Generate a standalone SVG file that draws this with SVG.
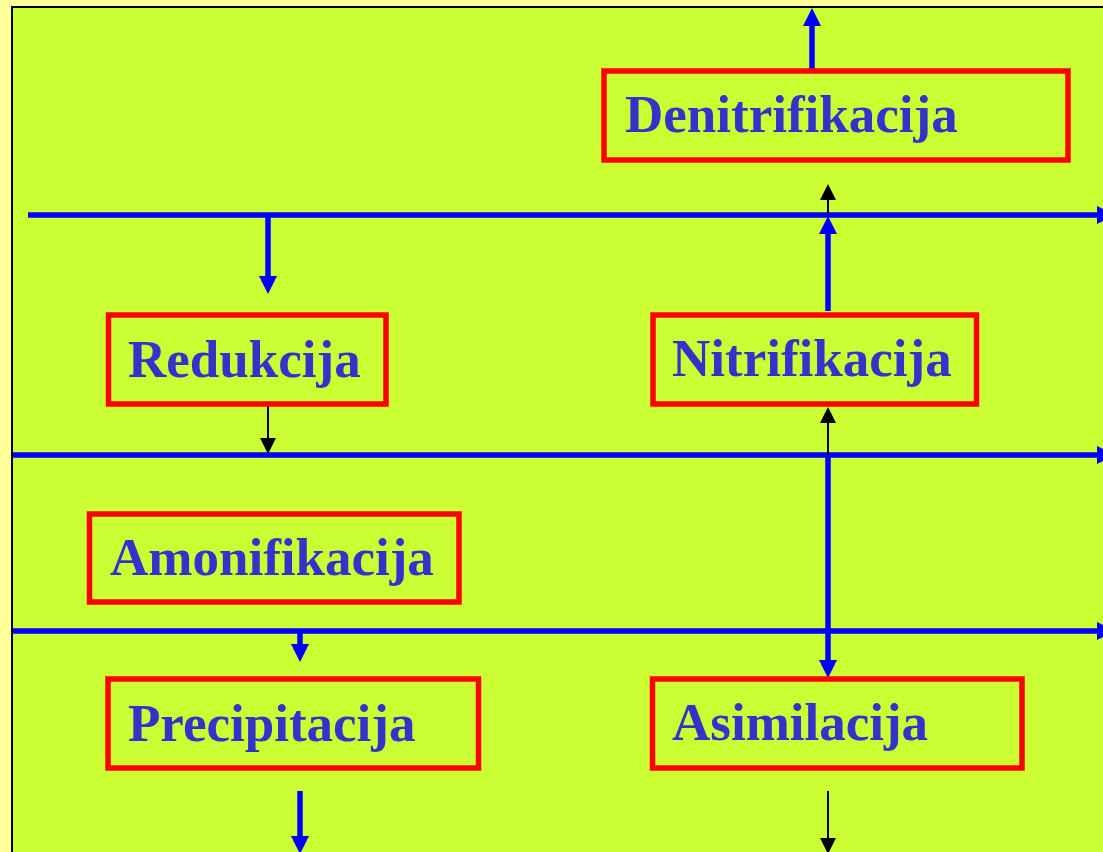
<svg xmlns="http://www.w3.org/2000/svg" width="1103" height="852" viewBox="0 0 1103 852">
<style>
.box{fill:none;stroke:#FF0000;stroke-width:5.5}
.lbl{font-family:"Liberation Serif","Times New Roman",serif;font-weight:bold;font-size:53px;fill:#3333CC}
.blue{fill:none;stroke:#0000FF;stroke-width:5.5;marker-end:url(#ab)}
.blk{fill:none;stroke:#000000;stroke-width:2;marker-end:url(#ak)}
</style>
<defs>
<marker id="ab" markerUnits="userSpaceOnUse" markerWidth="20" markerHeight="20" refX="1" refY="9" orient="auto" overflow="visible"><path d="M0,0 L18,9 L0,18 z" fill="#0000FF"/></marker>
<marker id="ak" markerUnits="userSpaceOnUse" markerWidth="18" markerHeight="18" refX="1" refY="8" orient="auto" overflow="visible"><path d="M0,0 L16,8 L0,16 z" fill="#000000"/></marker>
</defs>
<rect x="0" y="0" width="1103" height="852" fill="#FFFF99"/>
<rect x="12" y="7" width="1110" height="900" fill="#CCFF33" stroke="#000000" stroke-width="2"/>
<g id="connectors">
<path class="blue" d="M28,215 H1098"/>
<path class="blue" d="M13,455 H1098"/>
<path class="blue" d="M13,631 H1098"/>
<path class="blue" d="M268,215 V277"/>
<path class="blue" d="M812,70 V25"/>
<path class="blk" d="M828,213 V199"/>
<path class="blue" d="M828,311 V233"/>
<path class="blk" d="M828,455 V422"/>
<path class="blue" d="M828,455 V661"/>
<path class="blk" d="M268,405 V439"/>
<path class="blue" d="M300,631 V645"/>
<path class="blue" d="M300,791 V837"/>
<path class="blk" d="M828,791 V839"/>
</g>
<g id="denitrifikacija">
<rect class="box" x="604" y="71" width="464" height="89"/>
<text class="lbl" x="625" y="132">Denitrifikacija</text>
</g>
<g id="redukcija">
<rect class="box" x="108.5" y="315" width="277.5" height="89"/>
<text class="lbl" x="128" y="377">Redukcija</text>
</g>
<g id="nitrifikacija">
<rect class="box" x="653" y="315" width="323.5" height="89"/>
<text class="lbl" x="672" y="376">Nitrifikacija</text>
</g>
<g id="amonifikacija">
<rect class="box" x="89.5" y="514" width="369.5" height="88"/>
<text class="lbl" x="110" y="575">Amonifikacija</text>
</g>
<g id="precipitacija">
<rect class="box" x="108" y="679" width="370.5" height="89"/>
<text class="lbl" x="128" y="741">Precipitacija</text>
</g>
<g id="asimilacija">
<rect class="box" x="652.5" y="679" width="369.5" height="89"/>
<text class="lbl" x="672" y="740">Asimilacija</text>
</g>
</svg>
